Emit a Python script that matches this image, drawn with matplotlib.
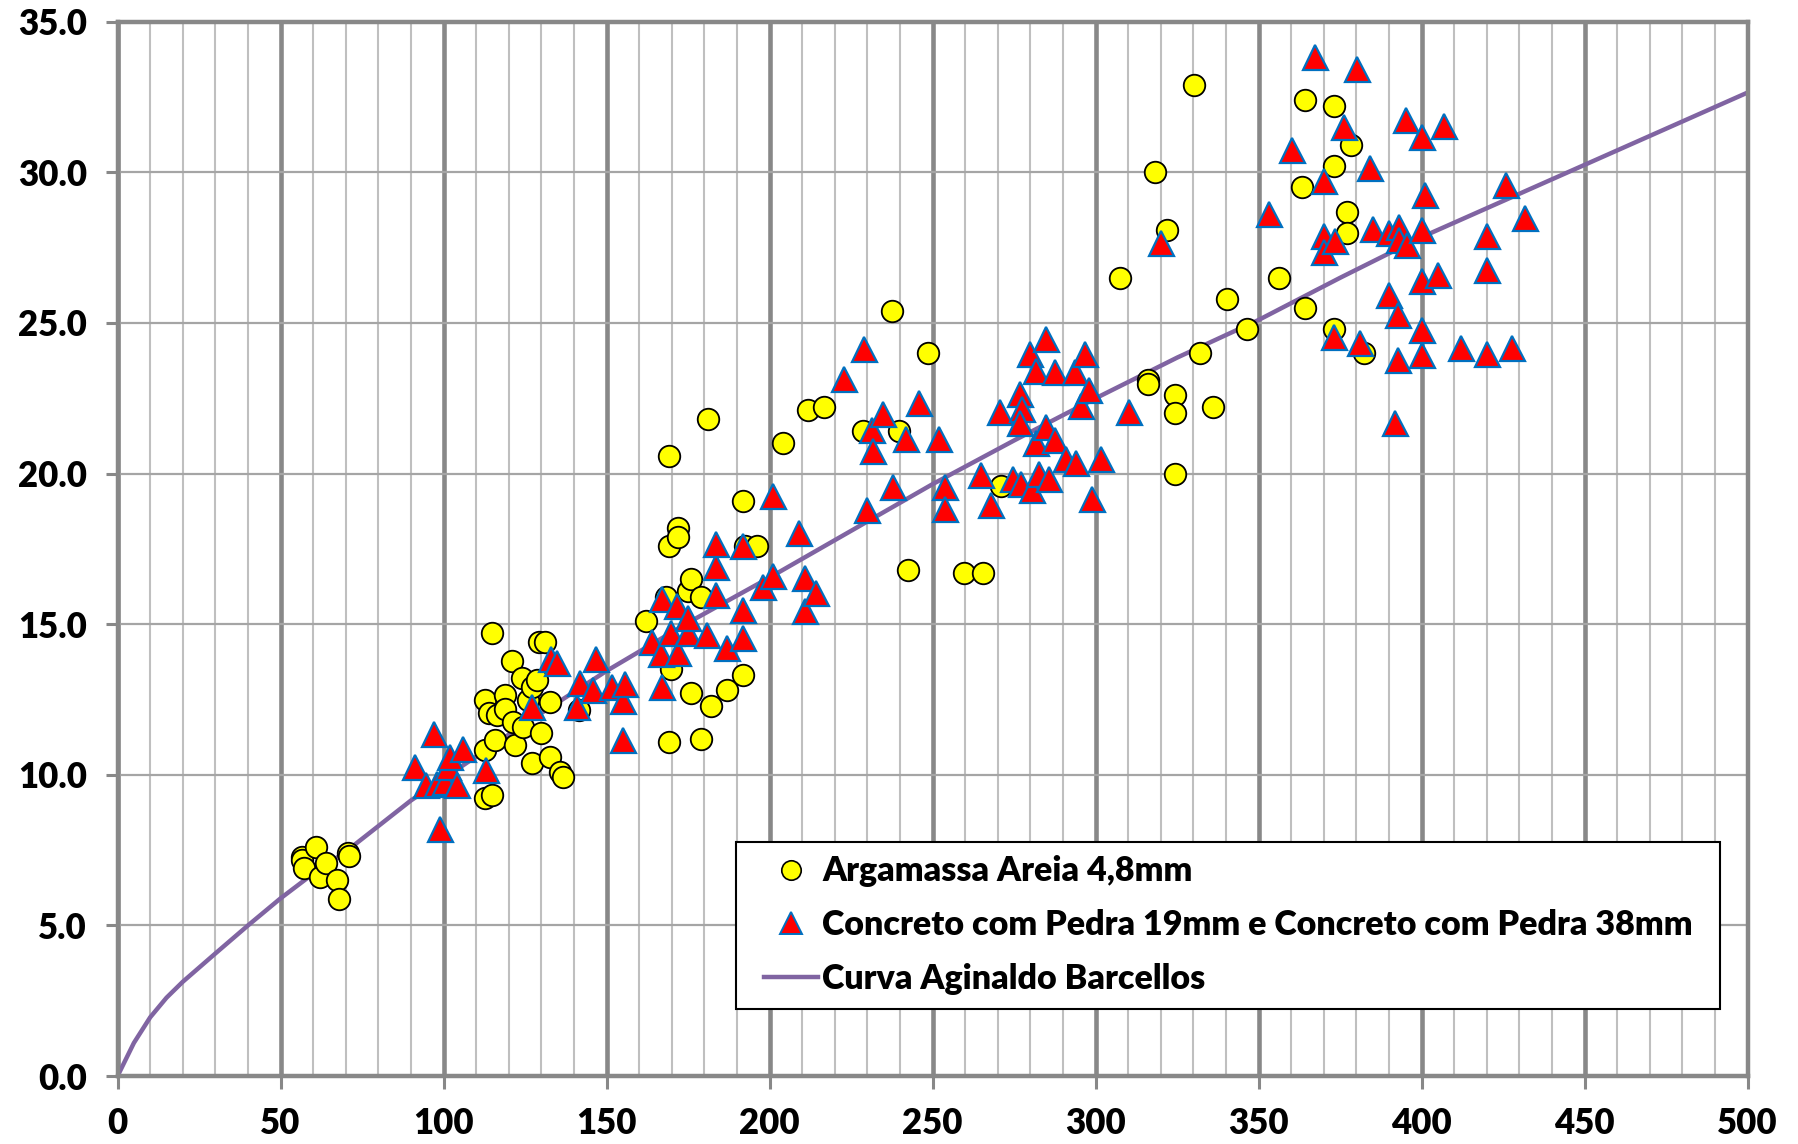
import matplotlib
matplotlib.use("Agg")
import matplotlib.pyplot as plt
from matplotlib.ticker import MultipleLocator, FormatStrFormatter
from matplotlib.lines import Line2D
from matplotlib.legend_handler import HandlerLine2D

plt.rcParams['font.family'] = ['Lato', 'DejaVu Sans']

# ---- data ----
arg_x = [56.7, 56.7, 57.3, 60.8, 62.0, 64.0, 67.3, 67.8, 70.8, 71.0,
         112.8, 112.8, 112.8, 113.8, 114.8, 114.8, 115.8, 116.3, 118.9, 118.9,
         120.9, 121.4, 122.0, 124.0, 124.5, 126.0, 127.0, 127.1, 128.6, 129.2,
         129.9, 131.0, 132.7, 132.7, 135.7, 136.7, 141.5,
         162.0, 168.1, 169.0, 169.0, 169.0, 169.9, 172.0, 172.0, 174.9, 175.9,
         175.9, 178.9, 179.0, 181.0, 181.9, 187.0, 191.8, 191.8, 192.4, 196.1,
         204.0, 211.7, 216.8, 228.6, 237.6, 239.6, 242.6, 248.5, 259.5, 265.4, 271.1,
         307.4, 316.1, 316.1, 318.1, 322.0, 324.3, 324.3, 324.3, 330.2, 332.0,
         336.1, 340.2, 346.3, 356.3, 363.2, 364.2, 364.2, 373.2, 373.2, 373.2,
         377.2, 377.2, 378.2, 382.3]
arg_y = [7.28, 7.17, 6.9, 7.6, 6.6, 7.08, 6.5, 5.87, 7.4, 7.3,
         12.48, 10.83, 9.23, 12.04, 14.7, 9.32, 11.16, 11.98, 12.65, 12.2,
         13.78, 11.76, 10.99, 13.2, 11.6, 12.5, 12.92, 10.4, 13.14, 14.4,
         11.4, 14.4, 12.43, 10.6, 10.1, 9.92, 12.15,
         15.1, 15.9, 20.6, 17.6, 11.1, 13.5, 18.2, 17.89, 16.1, 16.5,
         12.7, 15.9, 11.2, 21.8, 12.3, 12.8, 19.1, 13.3, 17.6, 17.6,
         21.0, 22.1, 22.2, 21.4, 25.4, 21.4, 16.8, 24.0, 16.7, 16.7, 19.6,
         26.5, 23.1, 22.96, 30.0, 28.1, 22.6, 22.0, 20.0, 32.9, 24.0,
         22.2, 25.8, 24.8, 26.5, 29.5, 25.5, 32.4, 32.2, 30.2, 24.8,
         28.7, 28.0, 30.9, 24.0]

conc_x = [91.2, 94.5, 97.0, 98.0, 99.0, 100.5, 101.5, 101.9, 104.0, 105.8, 113.0,
          127.0, 132.8, 134.8, 140.8, 141.8, 145.9, 146.8, 151.6, 155.0, 155.0, 155.6,
          164.0, 166.7, 167.0, 167.0, 169.9, 171.7, 172.0, 174.9, 175.0, 180.9,
          183.5, 183.5, 183.5, 186.9, 191.8, 191.8, 191.8, 198.0, 200.9, 200.9,
          208.9, 210.9, 210.9, 214.1,
          222.9, 229.0, 229.9, 231.5, 231.8, 234.9, 237.7, 241.9, 245.9, 252.0,
          253.7, 253.7, 264.8, 267.8, 270.6, 274.6, 276.9, 277.5, 276.9, 277.2,
          280.0, 280.4, 281.6, 281.8, 282.7, 284.8, 284.9, 285.7, 287.6, 287.6,
          290.8, 293.6, 294.0, 295.6, 296.8, 298.0, 298.8, 301.8, 310.3,
          320.2, 353.1, 360.2, 367.2, 370.1, 370.1, 370.1, 373.3, 373.2, 376.2,
          380.3, 381.2, 384.1, 385.0, 389.9, 389.9, 391.9, 392.8, 392.8, 393.0,
          393.0, 395.1, 395.4, 400.0, 400.0, 400.9, 400.0, 400.0, 400.0, 405.0,
          407.0, 412.0, 419.9, 419.9, 419.9, 426.0, 427.8, 431.8]
conc_y = [10.25, 9.65, 11.35, 9.7, 8.2, 9.75, 10.25, 10.6, 9.65, 10.85, 10.15,
          12.25, 13.85, 13.7, 12.25, 13.05, 12.8, 13.85, 12.9, 12.45, 11.15, 13.0,
          14.4, 14.0, 12.9, 15.85, 14.7, 15.6, 14.05, 14.7, 15.2, 14.65,
          15.97, 16.9, 17.67, 14.2, 14.55, 15.46, 17.6, 16.23, 16.6, 19.25,
          18.03, 16.55, 15.43, 16.04,
          23.15, 24.15, 18.78, 21.46, 20.75, 21.99, 19.57, 21.16, 22.35, 21.16,
          19.56, 18.84, 19.94, 18.95, 22.05, 19.81, 22.65, 22.13, 21.68, 19.65,
          23.98, 19.47, 23.4, 21.02, 19.97, 24.48, 21.55, 19.83, 23.38, 21.13,
          20.47, 23.38, 20.36, 22.24, 23.98, 22.77, 19.14, 20.47, 22.04,
          27.67, 28.63, 30.74, 33.83, 29.7, 27.88, 27.36, 27.72, 24.55, 31.5,
          33.44, 24.34, 30.13, 28.12, 27.99, 25.94, 21.68, 25.28, 23.78, 28.2,
          27.77, 31.75, 27.6, 28.1, 31.19, 29.26, 26.38, 24.78, 23.95, 26.6,
          31.53, 24.17, 27.88, 26.77, 23.98, 29.59, 24.17, 28.48]

curve_x = [0, 5, 10, 15, 20, 30, 40, 50, 60, 70, 80, 90, 100, 125, 150, 175,
           200, 225, 250, 275, 300, 325, 350, 375, 400, 425, 450, 475, 500]
curve_y = [0.0, 1.1, 1.95, 2.6, 3.13, 4.07, 5.0, 5.9, 6.72, 7.45, 8.3, 9.15, 9.88,
           11.7, 13.45, 15.05, 16.55, 18.1, 19.65, 21.1, 22.5, 23.85, 25.1, 26.5,
           27.85, 29.05, 30.25, 31.45, 32.65]

labels = ["Argamassa Areia 4,8mm",
          "Concreto com Pedra 19mm e Concreto com Pedra 38mm",
          "Curva Aginaldo Barcellos"]

x_ticks = [0, 50, 100, 150, 200, 250, 300, 350, 400, 450, 500]
y_ticks = [0, 5, 10, 15, 20, 25, 30, 35]

# ---- figure ----
fig = plt.figure(figsize=(17.98, 11.44), dpi=100)
ax = fig.add_axes([0.0654, 0.0594, 0.9066, 0.9216])

ax.set_xlim(0, 500)
ax.set_ylim(0, 35)
ax.set_xticks(x_ticks)
ax.set_yticks(y_ticks)
ax.xaxis.set_minor_locator(MultipleLocator(10))
ax.yaxis.set_major_formatter(FormatStrFormatter('%.1f'))

ax.set_axisbelow(True)
ax.grid(axis='x', which='minor', color='#BFBFBF', linewidth=1.5, zorder=0)
ax.grid(axis='y', which='major', color='#A5A5A5', linewidth=1.6, zorder=0)
ax.grid(axis='x', which='major', color='#888888', linewidth=3.3, zorder=0.5)

for s in ax.spines.values():
    s.set_color('#888888')
    s.set_linewidth(3.2)

ax.tick_params(axis='both', which='major', direction='out', length=9,
               width=2.2, color='#888888', pad=13, labelsize=25)
ax.tick_params(axis='x', which='minor', length=0)
for lab in ax.get_xticklabels() + ax.get_yticklabels():
    lab.set_fontweight('heavy')

ax.plot(curve_x, curve_y, color='#8064A2', linewidth=3.2, zorder=2)
ax.plot(arg_x, arg_y, linestyle='none', marker='o', markersize=15.5,
        markerfacecolor='#FFFF00', markeredgecolor='black',
        markeredgewidth=1.3, zorder=3)
ax.plot(conc_x, conc_y, linestyle='none', marker='^', markersize=18,
        markerfacecolor='#FF0000', markeredgecolor='#0070C0',
        markeredgewidth=1.6, zorder=4)

handles = [
    Line2D([], [], linestyle='none', marker='o', markersize=14,
           markerfacecolor='#FFFF00', markeredgecolor='black', markeredgewidth=1.2),
    Line2D([], [], linestyle='none', marker='^', markersize=16,
           markerfacecolor='#FF0000', markeredgecolor='#0070C0', markeredgewidth=1.4),
    Line2D([], [], color='#8064A2', linewidth=3.2),
]
leg = ax.legend(handles, labels, loc='lower left',
                bbox_to_anchor=(0.3795, 0.0636, 0.6035, 0.1604), mode='expand',
                prop={'family': 'Lato', 'weight': 'heavy', 'size': 24.5},
                frameon=True, fancybox=False, shadow=False, framealpha=1,
                edgecolor='black', borderpad=0.41, labelspacing=0.64,
                handlelength=1.98, handletextpad=0.14, borderaxespad=0,
                handler_map={Line2D: HandlerLine2D(xpad=0.41)})
leg.get_frame().set_linewidth(1.5)
leg.set_zorder(10)

fig.savefig('out.png', dpi=100, facecolor='white')
